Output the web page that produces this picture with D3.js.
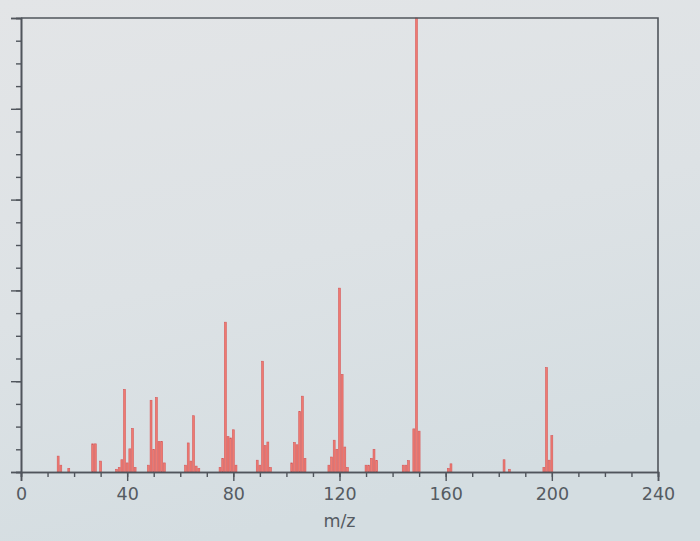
<!DOCTYPE html>
<html>
<head>
<meta charset="utf-8">
<script src="https://cdn.jsdelivr.net/npm/d3@7"></script>
<style>
  html, body { margin: 0; padding: 0; background: #dfe3e5; }
  svg { display: block; }
</style>
</head>
<body>
<svg id="chart" width="700" height="541"></svg>
<script>
// m/z values of the peaks
const mz = [14, 15, 18, 27, 28, 30, 36, 37, 38, 39, 40, 41, 42, 43,
  48, 49, 50, 51, 52, 53, 54, 62, 63, 64, 65, 66, 67,
  75, 76, 77, 78, 79, 80, 81, 89, 90, 91, 92, 93, 94,
  102, 103, 104, 105, 106, 107, 116, 117, 118, 119, 120, 121, 122, 123,
  130, 131, 132, 133, 134, 144, 145, 146, 148, 149, 150,
  161, 162, 182, 184, 197, 198, 199, 200];
// relative intensity (%)
const intensity = [3.5, 1.5, 0.8, 6.2, 6.2, 2.4, 0.6, 1, 2.7, 18.2, 2, 5.1, 9.6, 1,
  1.5, 15.8, 5, 16.4, 6.7, 6.7, 2, 1.5, 6.4, 2.4, 12.4, 1.3, 0.8,
  1, 3, 33, 7.8, 7.5, 9.3, 1.5, 2.6, 1.5, 24.4, 5.8, 6.6, 1,
  2, 6.5, 6, 13.3, 16.7, 3, 1.5, 3.3, 7, 5, 40.5, 21.5, 5.5, 1,
  1.5, 1.5, 3, 5, 2.5, 1.5, 1.5, 2.5, 9.5, 100, 9,
  0.8, 1.8, 2.7, 0.6, 1, 23, 2.6, 8];
const xMajorTicks = [0, 40, 80, 120, 160, 200, 240];
const xMinorTicks = d3.range(0, 241, 10);
const yMajorTicks = [0, 20, 40, 60, 80, 100];
const yMinorTicks = d3.range(0, 101, 5);
const xTitle = "m/z";

(function () {
const svg = d3.select("#chart");
const W = 700, H = 541;
const pLeft = 21, pRight = 658, pTop = 18, pBottom = 472;

// background
const defs = svg.append("defs");
const grad = defs.append("linearGradient").attr("id", "bg")
  .attr("x1", 0).attr("y1", 0).attr("x2", 0.3).attr("y2", 1);
grad.append("stop").attr("offset", "0%").attr("stop-color", "#e3e5e7");
grad.append("stop").attr("offset", "55%").attr("stop-color", "#dde2e5");
grad.append("stop").attr("offset", "100%").attr("stop-color", "#d4dde1");
svg.append("rect").attr("width", W).attr("height", H).attr("fill", "url(#bg)");

const x = d3.scaleLinear().domain([0, 240]).range([pLeft, pRight]);
const y = d3.scaleLinear().domain([0, 100]).range([pBottom, pTop]);

const axisColor = "#50555c";
const textColor = "#555b62";

// bars
const bw = (x(1) - x(0)) * 0.72;
svg.append("g").selectAll("rect")
  .data(mz.map((m, i) => ({ m, v: intensity[i] })))
  .join("rect")
  .attr("x", d => x(d.m) - bw / 2)
  .attr("width", bw)
  .attr("y", d => y(d.v))
  .attr("height", d => y(0) - y(d.v))
  .attr("fill", "#ef7a70")
  .attr("stroke", "#d65a5c")
  .attr("stroke-width", 0.6);

// x axis minor ticks
const gxMin = svg.append("g").attr("transform", `translate(0,${pBottom})`)
  .call(d3.axisBottom(x).tickValues(xMinorTicks).tickSize(5).tickFormat(""));
// x axis major ticks + labels
const gx = svg.append("g").attr("transform", `translate(0,${pBottom})`)
  .call(d3.axisBottom(x).tickValues(xMajorTicks).tickSize(9).tickPadding(7).tickFormat(d3.format("d")));
[gxMin, gx].forEach(g => {
  g.selectAll("path").attr("stroke", axisColor).attr("stroke-width", 1.6);
  g.selectAll("line").attr("stroke", axisColor).attr("stroke-width", 1.4);
});
gx.selectAll("text").attr("fill", textColor)
  .style("font-family", "'DejaVu Sans', sans-serif").style("font-size", "17.5px");

// y axis
const gyMin = svg.append("g").attr("transform", `translate(${pLeft},0)`)
  .call(d3.axisLeft(y).tickValues(yMinorTicks).tickSize(5).tickFormat(""));
const gy = svg.append("g").attr("transform", `translate(${pLeft},0)`)
  .call(d3.axisLeft(y).tickValues(yMajorTicks).tickSize(10).tickFormat(""));
[gyMin, gy].forEach(g => {
  g.selectAll("path").attr("stroke", axisColor).attr("stroke-width", 1.6);
  g.selectAll("line").attr("stroke", axisColor).attr("stroke-width", 1.4);
});

// frame top and right
svg.append("path")
  .attr("d", `M${pLeft},${pTop}H${pRight}V${pBottom}`)
  .attr("fill", "none").attr("stroke", axisColor).attr("stroke-width", 1.6);

// x title
svg.append("text")
  .attr("x", (pLeft + pRight) / 2).attr("y", 527)
  .attr("text-anchor", "middle")
  .attr("fill", textColor)
  .style("font-family", "'DejaVu Sans', sans-serif").style("font-size", "17.5px")
  .text(xTitle);
})();
</script>
</body>
</html>
